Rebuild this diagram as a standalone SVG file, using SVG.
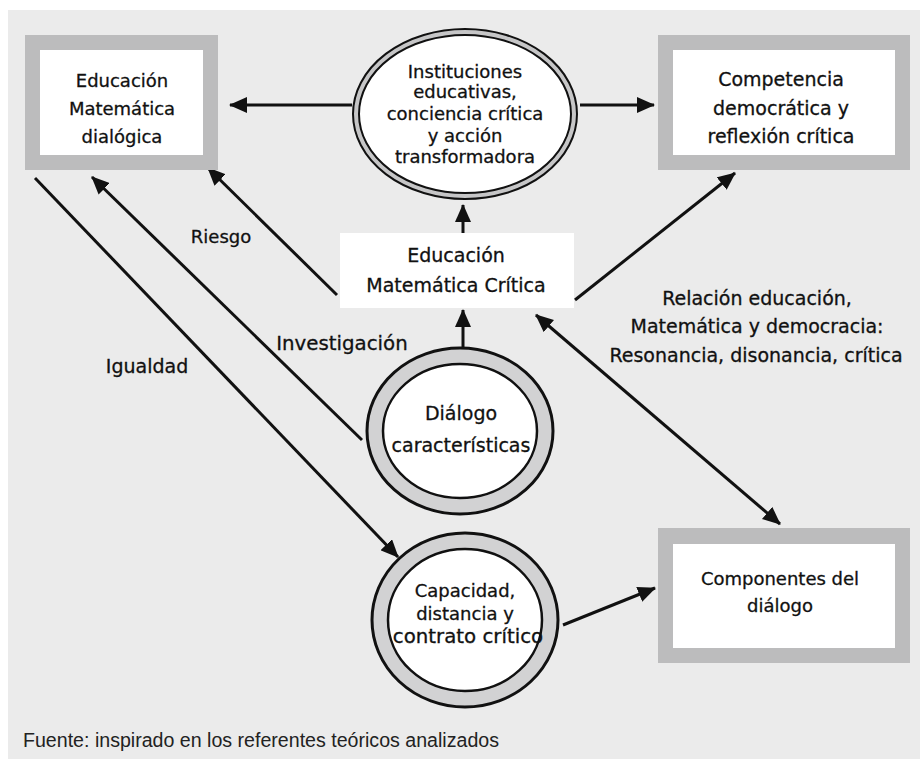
<svg xmlns="http://www.w3.org/2000/svg" width="920" height="759" viewBox="0 0 920 759">
<style>
.t{font-family:"DejaVu Sans","Noto Sans",sans-serif;font-size:18px;fill:#111;stroke:#111;stroke-width:0.3;text-anchor:middle}
.l19{font-size:19px}
.l20{font-size:19.8px}
.frame{fill:#bcbcbd}
.inner{fill:#ffffff}
.c{stroke:#111;stroke-width:3;fill:none}
.ring{fill:#d2d2d3;stroke:#111;stroke-width:3}
.core{fill:#ffffff;stroke:#111;stroke-width:2.5}
.foot{font-family:"Liberation Sans",Arial,sans-serif;font-size:19.6px;fill:#222}
</style>
<defs>
<marker id="ah" markerUnits="userSpaceOnUse" markerWidth="18" markerHeight="16" refX="17" refY="8" orient="auto-start-reverse">
<path d="M0,0 L18,8 L0,16 z" fill="#111"/>
</marker>
</defs>
<rect x="0" y="0" width="920" height="759" fill="#ffffff"/>
<rect x="8" y="10" width="912" height="749" fill="#ebebeb"/>

<g id="connectors">
<line class="c" x1="352" y1="105" x2="230" y2="105" marker-end="url(#ah)"/>
<line class="c" x1="580" y1="105" x2="654" y2="105" marker-end="url(#ah)"/>
<line class="c" x1="463" y1="233" x2="463" y2="205" marker-end="url(#ah)"/>
<line class="c" x1="463" y1="348" x2="463" y2="310" marker-end="url(#ah)"/>
<line class="c" x1="337" y1="295" x2="208" y2="168" marker-end="url(#ah)"/>
<line class="c" x1="362" y1="440" x2="92" y2="177" marker-end="url(#ah)"/>
<line class="c" x1="35" y1="178" x2="398" y2="557" marker-end="url(#ah)"/>
<line class="c" x1="575" y1="300" x2="735" y2="173" marker-end="url(#ah)"/>
<line class="c" x1="536" y1="315" x2="780" y2="524" marker-start="url(#ah)" marker-end="url(#ah)"/>
<line class="c" x1="563" y1="625" x2="655" y2="588" marker-end="url(#ah)"/>
</g>

<g id="node-edu-dialogica">
<rect class="frame" x="25" y="35" width="193" height="135"/>
<rect class="inner" x="40" y="50" width="163" height="105"/>
<text class="t" x="122" y="87">Educación</text>
<text class="t" x="122" y="115">Matemática</text>
<text class="t" x="122" y="143">dialógica</text>
</g>

<g id="node-competencia">
<rect class="frame" x="658" y="35" width="252" height="135"/>
<rect class="inner" x="673" y="50" width="222" height="105"/>
<text class="t l19" x="781" y="86">Competencia</text>
<text class="t l19" x="781" y="115">democrática y</text>
<text class="t l19" x="781" y="143">reflexión crítica</text>
</g>

<g id="node-instituciones">
<ellipse cx="465" cy="114" rx="112" ry="85" fill="#c6c6c7" stroke="#111" stroke-width="2"/>
<ellipse cx="465" cy="114" rx="106" ry="79" fill="#ffffff" stroke="#111" stroke-width="2"/>
<text class="t" x="465" y="78">Instituciones</text>
<text class="t" x="465" y="98">educativas,</text>
<text class="t" x="465" y="120">conciencia crítica</text>
<text class="t" x="465" y="142">y acción</text>
<text class="t" x="465" y="163">transformadora</text>
</g>

<g id="node-emc">
<rect class="inner" x="340" y="233" width="234" height="75"/>
<text class="t l19" x="456" y="262">Educación</text>
<text class="t l19" x="456" y="292">Matemática Crítica</text>
</g>

<g id="node-dialogo">
<ellipse class="ring" cx="460" cy="431" rx="93" ry="83"/>
<ellipse class="core" cx="460" cy="431" rx="77" ry="67"/>
<text class="t l19" x="461" y="420">Diálogo</text>
<text class="t l19" x="461" y="452">características</text>
</g>

<g id="node-capacidad">
<ellipse class="ring" cx="465" cy="620" rx="93" ry="87"/>
<ellipse class="core" cx="465" cy="620" rx="77" ry="71"/>
<text class="t" x="465" y="597">Capacidad,</text>
<text class="t" x="465" y="620">distancia y</text>
<text class="t l20" x="468" y="643">contrato crítico</text>
</g>

<g id="node-componentes">
<rect class="frame" x="658" y="528" width="252" height="135"/>
<rect class="inner" x="673" y="544" width="222" height="104"/>
<text class="t" x="780" y="585">Componentes del</text>
<text class="t" x="780" y="612">diálogo</text>
</g>

<g id="labels">
<text class="t" x="221" y="243">Riesgo</text>
<text class="t l20" x="342" y="350">Investigación</text>
<text class="t l19" x="147" y="373">Igualdad</text>
<text class="t l19" x="757" y="305">Relación educación,</text>
<text class="t l19" x="757" y="333">Matemática y democracia:</text>
<text class="t l19" x="756" y="362">Resonancia, disonancia, crítica</text>
</g>

<text class="foot" x="23" y="747">Fuente: inspirado en los referentes teóricos analizados</text>
</svg>
